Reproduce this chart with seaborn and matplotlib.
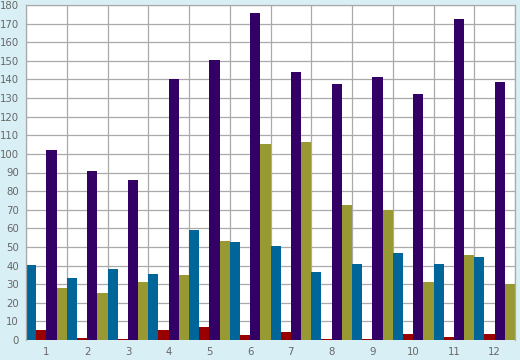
import numpy as np
import pandas as pd
import matplotlib
matplotlib.use("Agg")
import matplotlib.pyplot as plt
import seaborn as sns

# values
months = [str(i) for i in range(1, 13)]
series_a = [40.3, 33.3, 38.2, 35.5, 59.0, 52.7, 50.5, 36.5, 40.8, 46.7, 40.8, 44.6]
series_b = [5.4, 1.1, 0.7, 5.4, 7.0, 2.7, 4.3, 0.6, 0.6, 3.2, 1.6, 3.2]
series_c = [102.0, 90.8, 86.0, 140.2, 150.4, 175.7, 144.0, 137.6, 141.3, 132.2, 172.5, 138.6]
series_d = [27.9, 25.3, 31.0, 34.9, 53.2, 105.3, 106.4, 72.5, 69.8, 31.0, 45.7, 30.1]
series_names = ["A", "B", "C", "D"]

palette = ["#006699", "#990000", "#330066", "#999933"]
bg = "#d9eff6"
grid_c = "#aaaaaa"
text_c = "#666666"

rows = []
for name, vals in zip(series_names, [series_a, series_b, series_c, series_d]):
    for m, v in zip(months, vals):
        rows.append({"month": m, "series": name, "value": v})
df = pd.DataFrame(rows)

sns.set_style("white")
plt.rcParams['font.family'] = ['DejaVu Sans']

fig = plt.figure(figsize=(5.2, 3.6), dpi=100, facecolor=bg)
ax = fig.add_axes([26 / 520, 20 / 360, 489 / 520, 335 / 360])
ax.set_facecolor("white")

sns.barplot(data=df, x="month", y="value", hue="series", order=months,
            hue_order=series_names, palette=palette, width=1.0, dodge=True,
            saturation=1, linewidth=0, legend=False, ax=ax)

ax.set_xlim(-0.5, 11.5)
ax.set_ylim(0, 180)
ax.set_yticks(np.arange(0, 181, 10))
ax.set_xticks(np.arange(12))
ax.set_xticklabels(months)
ax.set_xticks(np.arange(-0.5, 12, 1), minor=True)
ax.set_xlabel("")
ax.set_ylabel("")

ax.set_axisbelow(True)
ax.grid(True, axis="y", which="major", color=grid_c, linewidth=0.9)
ax.grid(True, axis="x", which="minor", color=grid_c, linewidth=0.9)
ax.grid(False, axis="x", which="major")

ax.tick_params(axis="y", which="major", length=4, width=0.9, color=grid_c,
               labelsize=7.3, labelcolor=text_c, pad=1)
ax.tick_params(axis="x", which="major", length=0, labelsize=7.3,
               labelcolor=text_c, pad=5)
ax.tick_params(axis="x", which="minor", length=4, width=0.9, color=grid_c)

for side in ["left", "right", "top", "bottom"]:
    ax.spines[side].set_visible(True)
    ax.spines[side].set_color(grid_c)
    ax.spines[side].set_linewidth(0.9)
ax.spines["bottom"].set_visible(False)

fig.savefig("out.png", dpi=100, facecolor=bg)
